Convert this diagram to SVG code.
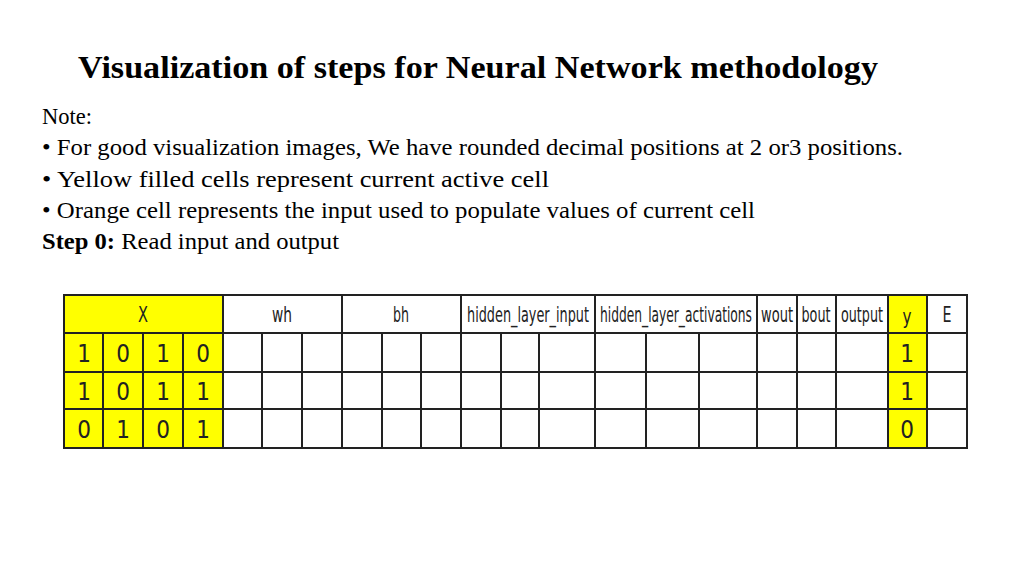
<svg xmlns="http://www.w3.org/2000/svg" width="1024" height="574" viewBox="0 0 1024 574">
<style>
.t{font-family:"Liberation Serif",serif;font-size:22.5px;fill:#000}
.h{font-family:"DejaVu Sans Condensed","DejaVu Sans",sans-serif;font-size:21px;fill:#222;text-anchor:middle}
.g{stroke:#222;stroke-width:2;fill:none}
.y{fill:#ffff00}
</style>
<rect width="1024" height="574" fill="#fff"/>
<text x="78" y="78" font-family="Liberation Serif,serif" font-size="31" font-weight="bold" textLength="800" lengthAdjust="spacingAndGlyphs">Visualization of steps for Neural Network methodology</text>
<text class="t" x="42" y="124">Note:</text>
<text class="t" x="42" y="155" textLength="861" lengthAdjust="spacingAndGlyphs">• For good visualization images, We have rounded decimal positions at 2 or3 positions.</text>
<text class="t" x="42" y="187" textLength="507" lengthAdjust="spacingAndGlyphs">• Yellow filled cells represent current active cell</text>
<text class="t" x="42" y="218" textLength="713" lengthAdjust="spacingAndGlyphs">• Orange cell represents the input used to populate values of current cell</text>
<text class="t" x="42" y="249" textLength="297" lengthAdjust="spacingAndGlyphs"><tspan font-weight="bold">Step 0:</tspan> Read input and output</text>
<g id="table">
<rect class="y" x="64" y="295" width="159" height="153"/>
<rect class="y" x="888" y="295" width="39" height="153"/>
<g class="g">
<rect x="64" y="295" width="903" height="153"/>
<path d="M64 333H967M64 372H967M64 409H967"/>
<path d="M223 295V448M342 295V448M461 295V448M595 295V448M757 295V448M797 295V448M836 295V448M888 295V448M927 295V448"/>
<path d="M103 333V448M143 333V448M183 333V448M262 333V448M302 333V448M382 333V448M421 333V448M501 333V448M539 333V448M646 333V448M699 333V448"/>
</g>
<g class="h">
<text x="143" y="322" textLength="10" lengthAdjust="spacingAndGlyphs">X</text>
<text x="282" y="322" textLength="20" lengthAdjust="spacingAndGlyphs">wh</text>
<text x="401" y="322" textLength="16" lengthAdjust="spacingAndGlyphs">bh</text>
<text x="528" y="322" textLength="122" lengthAdjust="spacingAndGlyphs">hidden_layer_input</text>
<text x="676" y="322" textLength="152" lengthAdjust="spacingAndGlyphs">hidden_layer_activations</text>
<text x="777" y="322" textLength="32" lengthAdjust="spacingAndGlyphs">wout</text>
<text x="816" y="322" textLength="29" lengthAdjust="spacingAndGlyphs">bout</text>
<text x="862" y="322" textLength="42" lengthAdjust="spacingAndGlyphs">output</text>
<text x="907" y="324" textLength="9" lengthAdjust="spacingAndGlyphs">y</text>
<text x="947" y="322" textLength="9" lengthAdjust="spacingAndGlyphs">E</text>
<g font-size="24">
<text x="84" y="362">1</text><text x="123" y="362">0</text><text x="163" y="362">1</text><text x="203" y="362">0</text>
<text x="84" y="400">1</text><text x="123" y="400">0</text><text x="163" y="400">1</text><text x="203" y="400">1</text>
<text x="84" y="438">0</text><text x="123" y="438">1</text><text x="163" y="438">0</text><text x="203" y="438">1</text>
<text x="907" y="362">1</text><text x="907" y="400">1</text><text x="907" y="438">0</text>
</g>
</g>
</g>
</svg>
